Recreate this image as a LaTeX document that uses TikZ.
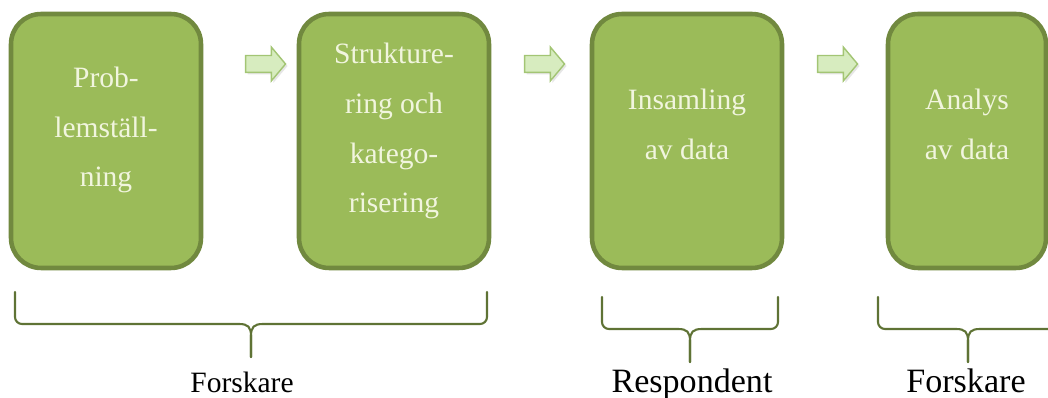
\documentclass[tikz,border=0pt]{standalone}
\usepackage{fontspec}
\setmainfont{Liberation Serif}
\usepackage{tikz}
\usetikzlibrary{shapes.arrows,positioning,calc,shadows}
\definecolor{StageGreen}{HTML}{9BBB59}
\definecolor{StageBorder}{HTML}{71893F}
\definecolor{StageText}{HTML}{F1F5DE}
\definecolor{ArrowFill}{HTML}{D7ECBF}
\definecolor{ArrowBorder}{HTML}{A3C574}
\definecolor{BraceOlive}{HTML}{5F7335}
\tikzset{
    % Stage box
    stagenode/.style={
        draw=StageBorder,
        fill=StageGreen,
        line width=2.6pt,
        rounded corners=0.6cm,
        minimum width=3.8cm,
        minimum height=5.08cm
    },
    % Text inside a stage
    stagetext/.style={
        text=StageText,
        align=center,
        inner sep=0pt,
        font=\fontsize{16.8}{28.4}\selectfont
    },
    % Block arrow between stages
    steparrow/.style={
        single arrow,
        draw=ArrowBorder,
        fill=ArrowFill,
        line width=0.8pt,
        minimum height=0.8cm,
        inner xsep=0pt,
        inner ysep=0.155cm,
        single arrow head extend=0.17cm,
        single arrow tip angle=100,
        drop shadow={opacity=0.2,shadow xshift=0.04cm,shadow yshift=-0.04cm}
    },
    % Brace under a group of stages
    bracepath/.style={
        draw=BraceOlive,
        line width=1.2pt,
        line cap=round
    },
    % Role label below a brace
    rolelabel/.style={
        anchor=base,
        inner sep=0pt,
        font=\fontsize{16.8}{20}\selectfont
    }
}
% name, left x, right x, top y, bar y, tip y
\newcommand{\rolebrace}[6]{%
    \pgfmathsetmacro\bmid{(#2+#3)/2}
    \coordinate (#1-l) at (#2,#4);
    \coordinate (#1-r) at (#3,#4);
    \coordinate (#1-tip) at (\bmid,#6);
    \draw[bracepath] (#1-l) -- (#2,#5-7) to[out=-90,in=180] (#2+7,#5)
        -- (\bmid-12,#5) .. controls (\bmid-3,#5) and (\bmid,#5+3) .. (\bmid,#5+12) -- (#1-tip);
    \draw[bracepath] (#1-r) -- (#3,#5-7) to[out=-90,in=0] (#3-7,#5)
        -- (\bmid+12,#5) .. controls (\bmid+3,#5) and (\bmid,#5+3) .. (\bmid,#5+12) -- (#1-tip);
}

\begin{document}
\begin{tikzpicture}[x=0.02cm, y=-0.02cm]
    \useasboundingbox (0,0) rectangle (1048,398);
    \clip (0,0) rectangle (1048,398);

    \node[stagenode] (s1) at (106,141) {};
    \node[stagenode] (s2) at (394,141) {};
    \node[stagenode] (s3) at (687,141) {};
    \node[stagenode, minimum width=3.16cm] (s4) at (967,141) {};

    \node[stagetext] (t1) at ($(s1.center)+(0,-11)$) {Prob-\\lemställ-\\ning};
    \node[stagetext] (t2) at ($(s2.center)+(0,-10)$) {Strukture-\\ring och\\katego-\\risering};
    \node[stagetext] (t3) at ($(s3.center)+(0,-17)$) {Insamling\\av data};
    \node[stagetext] (t4) at ($(s4.center)+(0,-17)$) {Analys\\av data};

    \node[steparrow] (a1) at (262,64) {};
    \node[steparrow] (a2) at (541,64) {};
    \node[steparrow] (a3) at (834,64) {};

    \rolebrace{b1}{15}{487}{292}{324}{357}
    \rolebrace{b2}{602}{778}{297}{329}{362}
    \rolebrace{b3}{878}{1058}{297}{329}{362}

    \node[rolelabel] (r1) at (242,393) {Forskare};
    \node[rolelabel, font=\fontsize{19.4}{22}\selectfont] (r2) at (692,393) {Respondent};
    \node[rolelabel, font=\fontsize{19.4}{22}\selectfont] (r3) at (966,393) {Forskare};
\end{tikzpicture}
\end{document}
